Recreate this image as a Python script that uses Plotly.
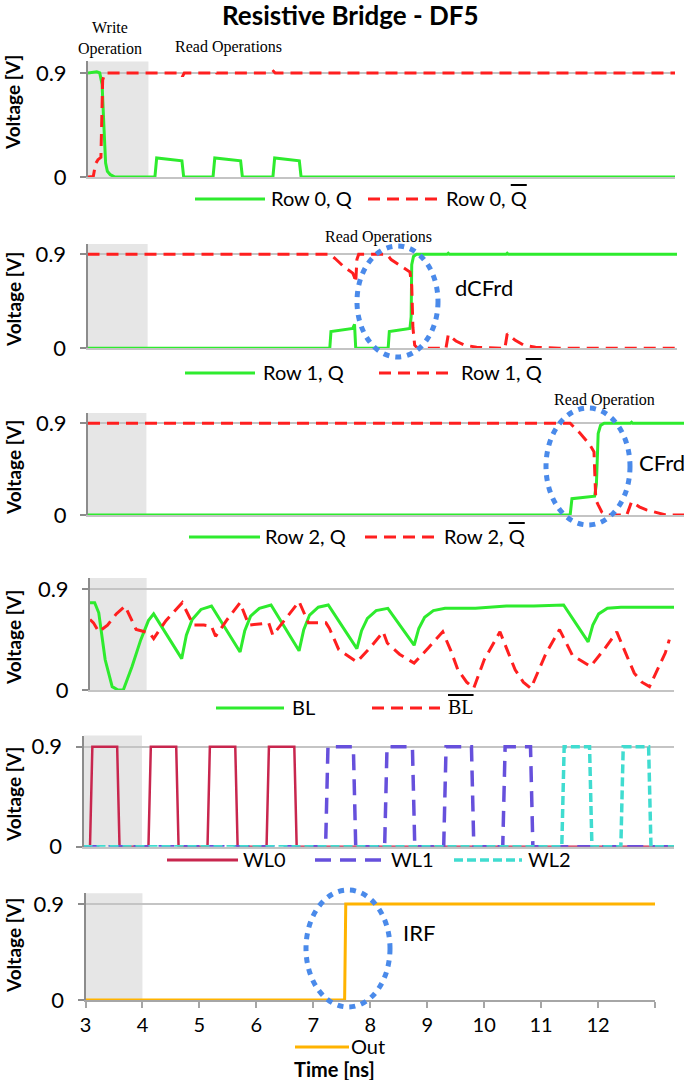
import plotly.graph_objects as go

W, H = 685, 1080

# ---------------- data: time [ns] / voltage [V] ----------------
row0_q_t = [3.0, 3.15, 3.2, 3.24, 3.27, 3.3, 3.33, 3.38, 3.46, 4.14, 4.17, 4.6, 4.63,
            5.13, 5.16, 5.6, 5.63, 6.15, 6.18, 6.6, 6.63, 13.0]
row0_q_v = [0.9, 0.91, 0.9, 0.8, 0.45, 0.12, 0.05, 0.02, 0.0, 0.0, 0.165, 0.14, 0.0,
            0.0, 0.165, 0.14, 0.0, 0.0, 0.165, 0.14, 0.0, 0.0]
row0_qb_t = [3.0, 3.09, 3.13, 3.17, 3.22, 3.235, 3.25, 3.29, 4.58, 4.61, 4.64,
             5.13, 5.16, 5.19, 6.13, 6.16, 6.19, 13.0]
row0_qb_v = [0.0, 0.005, 0.115, 0.15, 0.17, 0.45, 0.84, 0.9, 0.9, 0.87, 0.9,
             0.9, 0.915, 0.9, 0.9, 0.915, 0.9, 0.9]

row1_q_t = [3.0, 7.11, 7.13, 7.5, 7.53, 7.55, 8.1, 8.12, 8.47, 8.49, 8.5, 8.53, 8.58,
            9.1, 9.12, 9.14, 10.1, 10.12, 10.14, 13.0]
row1_q_v = [0.0, 0.0, 0.16, 0.19, 0.23, 0.0, 0.0, 0.16, 0.19, 0.3, 0.8, 0.88, 0.9,
            0.9, 0.91, 0.9, 0.9, 0.91, 0.9, 0.9]
row1_qb_t = [3.0, 7.12, 7.2, 7.35, 7.5, 7.53, 7.55, 7.57, 7.6, 8.08, 8.15, 8.3, 8.47,
             8.5, 8.52, 8.55, 8.6, 9.08, 9.12, 9.25, 9.4, 9.6, 10.08, 10.12, 10.25,
             10.4, 10.6, 11.0, 13.0]
row1_qb_v = [0.9, 0.9, 0.86, 0.78, 0.72, 0.68, 0.63, 0.85, 0.9, 0.9, 0.85, 0.79, 0.73,
             0.6, 0.2, 0.03, 0.0, 0.0, 0.13, 0.07, 0.03, 0.01, 0.0, 0.14, 0.08,
             0.03, 0.01, 0.0, 0.0]

row2_q_t = [3.0, 11.09, 11.12, 11.5, 11.53, 11.56, 11.6, 11.66, 12.1, 12.12, 12.14, 13.0]
row2_q_v = [0.0, 0.0, 0.16, 0.185, 0.3, 0.8, 0.88, 0.9, 0.9, 0.91, 0.9, 0.9]
row2_qb_t = [3.0, 11.09, 11.26, 11.42, 11.49, 11.52, 11.56, 11.62, 11.7, 12.04, 12.12,
             12.25, 12.37, 12.7, 13.0]
row2_qb_v = [0.9, 0.9, 0.8, 0.69, 0.62, 0.15, 0.1, 0.03, 0.0, 0.0, 0.13, 0.08,
             0.05, 0.0, 0.0]

bl_t = [3.00, 3.08, 3.15, 3.26, 3.38, 3.48, 3.57, 3.72, 3.87, 4.00, 4.09,
        4.57, 4.65, 4.75, 4.90, 5.08,
        5.57, 5.65, 5.75, 5.90, 6.10,
        6.58, 6.66, 6.76, 6.91, 7.08,
        7.57, 7.65, 7.75, 7.90, 8.10,
        8.55, 8.63, 8.73, 8.88, 9.08,
        9.60, 10.13, 10.60, 11.11,
        11.53, 11.61, 11.71, 11.86, 12.09,
        12.60, 13.00]
bl_v = [0.78, 0.78, 0.69, 0.27, 0.03, 0.0, 0.0, 0.21, 0.45, 0.62, 0.68,
        0.28, 0.49, 0.63, 0.72, 0.75,
        0.34, 0.53, 0.66, 0.73, 0.76,
        0.35, 0.54, 0.67, 0.74, 0.76,
        0.37, 0.53, 0.64, 0.71, 0.73,
        0.40, 0.55, 0.65, 0.71, 0.73,
        0.73, 0.75, 0.75, 0.76,
        0.43, 0.58, 0.68, 0.73, 0.74,
        0.74, 0.74]
blb_t = [3.00, 3.06, 3.15, 3.30, 3.45, 3.60, 3.79, 3.95, 4.02, 4.09, 4.30, 4.58,
         4.77, 4.95, 5.08, 5.15, 5.35, 5.57, 5.72, 5.90, 6.06, 6.13, 6.35, 6.58,
         6.74, 6.90, 7.04, 7.10, 7.26, 7.57, 7.80, 8.02, 8.09, 8.30, 8.55, 8.80,
         9.04, 9.18, 9.30, 9.45, 9.57, 9.75, 10.02, 10.15, 10.28, 10.42, 10.55,
         10.81, 11.04, 11.26, 11.57, 11.80, 12.02, 12.18, 12.32, 12.45, 12.58,
         12.85, 12.92]
blb_v = [0.63, 0.60, 0.52, 0.58, 0.68, 0.75, 0.54, 0.52, 0.51, 0.46, 0.62, 0.78,
         0.58, 0.58, 0.57, 0.48, 0.63, 0.78, 0.58, 0.59, 0.60, 0.49, 0.64, 0.79,
         0.60, 0.60, 0.60, 0.55, 0.36, 0.25, 0.38, 0.52, 0.42, 0.32, 0.24, 0.38,
         0.52, 0.35, 0.18, 0.07, 0.015, 0.27, 0.52, 0.35, 0.18, 0.07, 0.015,
         0.33, 0.54, 0.31, 0.21, 0.36, 0.52, 0.32, 0.15, 0.07, 0.03,
         0.33, 0.45]

wl0_t = [3.0, 3.11, 3.15, 3.57, 3.61, 4.10, 4.14, 4.57, 4.61, 5.10, 5.14, 5.57, 5.61,
         6.10, 6.14, 6.57, 6.61, 13.0]
wl0_v = [0, 0, 0.9, 0.9, 0, 0, 0.9, 0.9, 0, 0, 0.9, 0.9, 0, 0, 0.9, 0.9, 0, 0]
wl1_t = [3.0, 7.10, 7.14, 7.57, 7.61, 8.10, 8.14, 8.57, 8.61, 9.10, 9.14, 9.57, 9.61,
         10.10, 10.14, 10.57, 10.61, 13.0]
wl1_v = [0, 0, 0.9, 0.9, 0, 0, 0.9, 0.9, 0, 0, 0.9, 0.9, 0, 0, 0.9, 0.9, 0, 0]
wl2_t = [3.0, 11.10, 11.14, 11.57, 11.61, 12.10, 12.14, 12.57, 12.61, 13.0]
wl2_v = [0, 0, 0.9, 0.9, 0, 0, 0.9, 0.9, 0, 0]

out_t = [3.0, 7.55, 7.57, 13.0]
out_v = [0.0, 0.0, 0.9, 0.9]

x_ticks = [3, 4, 5, 6, 7, 8, 9, 10, 11, 12, 13]
x_tick_text = ["3", "4", "5", "6", "7", "8", "9", "10", "11", "12", ""]

# ---------------- styling ----------------
SANS = "Lato, Carlito, 'Open Sans', sans-serif"
SERIF = "'Liberation Serif', 'Times New Roman', serif"
GREEN = "#2EEB2E"
RED = "#FF1F1F"
WL0C = "#C8264E"
WL1C = "#6650DC"
WL2C = "#40DCD0"
OUTC = "#FFB300"
BLUE = "#4A8AEA"
RED_DASH = "12px,7px"


def px(x):
    return x / W


def py(y):
    return 1 - y / H


# panel geometry in pixels: (x left, x right), (y top, y bottom), write-box end
panels = [
    ((88, 675), (61.4, 177), 4.03),
    ((87.5, 677), (243.9, 348.3), 4.02),
    ((88, 684), (413.1, 515), 3.98),
    ((90, 674), (578.1, 690), 3.97),
    ((83.5, 674), (735.6, 846.7), 3.99),
    ((85.5, 655), (893.3, 1000), 4.0),
]

series = [
    [(row0_q_t, row0_q_v, GREEN, "solid", 3), (row0_qb_t, row0_qb_v, RED, RED_DASH, 3)],
    [(row1_q_t, row1_q_v, GREEN, "solid", 3), (row1_qb_t, row1_qb_v, RED, RED_DASH, 3)],
    [(row2_q_t, row2_q_v, GREEN, "solid", 3), (row2_qb_t, row2_qb_v, RED, RED_DASH, 3)],
    [(bl_t, bl_v, GREEN, "solid", 3), (blb_t, blb_v, RED, RED_DASH, 3)],
    [(wl0_t, wl0_v, WL0C, "solid", 2.5), (wl1_t, wl1_v, WL1C, "16px,9px", 3.5),
     (wl2_t, wl2_v, WL2C, "9px,4px", 3.5)],
    [(out_t, out_v, OUTC, "solid", 3)],
]

fig = go.Figure()
shapes = []
annotations = []
layout = {}

for i, ((xl, xr), (yt, yb), box_end) in enumerate(panels):
    n = i + 1
    sx = "" if n == 1 else str(n)
    for t, v, col, dash, w in series[i]:
        fig.add_trace(go.Scatter(x=t, y=v, mode="lines", showlegend=False,
                                 line=dict(color=col, dash=dash, width=w),
                                 xaxis="x" + sx, yaxis="y" + sx, hoverinfo="skip"))
    last = n == len(panels)
    layout["xaxis" + sx] = dict(
        domain=[px(xl), px(xr)], range=[3, 13], anchor="y" + sx, automargin=False,
        showgrid=False, zeroline=False, showline=True,
        linecolor="#C4C4C4" if not last else "#A6A6A6", linewidth=2,
        showticklabels=last, tickvals=x_ticks, ticktext=x_tick_text,
        ticks="outside" if last else "", ticklen=6, tickcolor="#A6A6A6", tickwidth=1.5,
        tickfont=dict(family=SANS, size=20, color="#000"), fixedrange=True,
    )
    layout["yaxis" + sx] = dict(
        domain=[py(yb), py(yt)], range=[0, 1], anchor="x" + sx, automargin=False,
        tickvals=[0, 0.9], ticktext=["0", "0.9"], showgrid=True,
        gridcolor="#C4C4C4", gridwidth=2, zeroline=False, showline=True,
        linecolor="#8C8C8C", linewidth=2, ticks="outside", ticklen=6,
        tickcolor="#8C8C8C", tickwidth=1.5, ticklabelstandoff=9,
        tickfont=dict(family=SANS, size=22, color="#000"), fixedrange=True,
    )
    shapes.append(dict(type="rect", xref="x" + sx, yref="y" + sx + " domain",
                       x0=3, x1=box_end, y0=0, y1=1, fillcolor="#E6E6E6",
                       line=dict(width=0), layer="below"))

# y-axis titles
for yc in [103, 300, 468, 638, 795, 946]:
    annotations.append(dict(text="<b>Voltage [V]</b>", x=px(13), y=py(yc),
                            xref="paper", yref="paper", textangle=-90, showarrow=False,
                            xanchor="center", yanchor="middle",
                            font=dict(family=SANS, size=19, color="#000")))

# manual legends: (line y, [(x0, x1, text x, label, colour, dash, width, font)])
QB = "<span style='text-decoration:overline'>Q</span>"
legends = [
    (199, [(195, 265, 270, "Row 0, Q", GREEN, "solid", 3, SANS),
           (368, 437, 445, "Row 0, " + QB, RED, RED_DASH, 3, SANS)]),
    (373, [(185, 255, 262, "Row 1, Q", GREEN, "solid", 3, SANS),
           (379, 449, 460, "Row 1, " + QB, RED, RED_DASH, 3, SANS)]),
    (537, [(189, 260, 264, "Row 2, Q", GREEN, "solid", 3, SANS),
           (365, 440, 443, "Row 2, " + QB, RED, RED_DASH, 3, SANS)]),
    (708, [(216, 284, 291, "BL", GREEN, "solid", 3, SANS),
           (372, 440, 447, "<span style='text-decoration:overline'>BL</span>",
            RED, RED_DASH, 3, SERIF)]),
    (860, [(167, 238, 242, "WL0", WL0C, "solid", 3, SANS),
           (315, 385, 390, "WL1", WL1C, "16px,9px", 3.5, SANS),
           (454, 522, 527, "WL2", WL2C, "9px,4px", 3.5, SANS)]),
    (1047, [(295, 349, 350, "Out", OUTC, "solid", 3, SANS)]),
]
for ly, items in legends:
    for x0, x1, tx, label, col, dash, w, fam in items:
        shapes.append(dict(type="line", xref="paper", yref="paper",
                           x0=px(x0), x1=px(x1), y0=py(ly), y1=py(ly),
                           line=dict(color=col, dash=dash, width=w)))
        annotations.append(dict(text=label, x=px(tx), y=py(ly - 1), xref="paper",
                                yref="paper", xanchor="left", yanchor="middle",
                                showarrow=False, borderpad=0,
                                font=dict(family=fam, size=20, color="#000")))

# highlight ellipses (pixel boxes)
for x0, x1, y0, y1 in [(357, 438, 246, 357), (546, 630, 408, 525), (306, 390, 890, 1007)]:
    shapes.append(dict(type="circle", xref="paper", yref="paper",
                       x0=px(x0), x1=px(x1), y0=py(y1), y1=py(y0),
                       line=dict(color=BLUE, width=5, dash="6px,6px")))

# text labels
texts = [
    ("dCFrd", 453, 288, "left", SANS, 22),
    ("CFrd", 637, 462, "left", SANS, 22),
    ("IRF", 401, 932, "left", SANS, 22),
    ("Write<br>Operation", 110, 39, "center", SERIF, 16),
    ("Read Operations", 228, 47, "center", SERIF, 16),
    ("Read Operations", 379, 237, "center", SERIF, 16),
    ("Read Operation", 604, 400, "center", SERIF, 16),
    ("<b>Resistive Bridge - DF5</b>", 350, 15, "center", SANS, 26),
    ("<b>Time [ns]</b>", 334, 1069, "center", SANS, 20),
]
for txt, x, y, anc, fam, size in texts:
    annotations.append(dict(text=txt, x=px(x), y=py(y), xref="paper", yref="paper",
                            xanchor=anc, yanchor="middle", showarrow=False,
                            font=dict(family=fam, size=size, color="#000")))

fig.update_layout(
    template="none",
    width=W, height=H, margin=dict(l=0, r=0, t=0, b=0, autoexpand=False),
    paper_bgcolor="white", plot_bgcolor="white",
    shapes=shapes, annotations=annotations, showlegend=False,
    **layout,
)

# drop the page's default body margin so the figure sits at the window origin
fig.write_html("out.html", config={"displayModeBar": False},
               post_script="document.body.style.margin='0';")
